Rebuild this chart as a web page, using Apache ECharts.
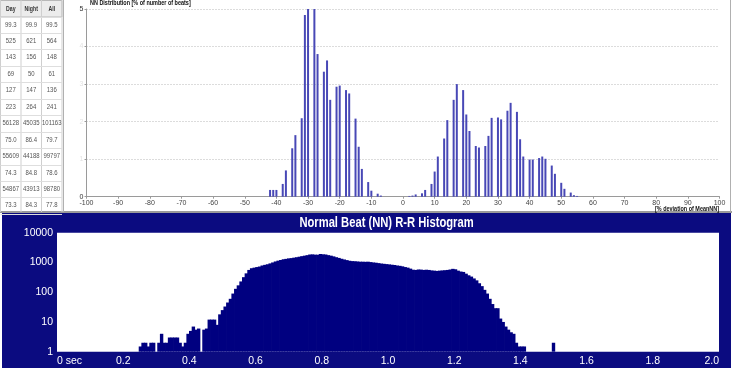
<!DOCTYPE html>
<html><head><meta charset="utf-8">
<script src="https://cdn.jsdelivr.net/npm/echarts@6/dist/echarts.min.js"></script>
<style>html,body{margin:0;padding:0;background:#fff}#c{width:732px;height:368px}</style>
</head><body><div id="c"></div>
<script>
// ---------- data ----------
const tableHeaders = ['Day', 'Night', 'All'];
const tableRows = [
  ['99.3', '99.9', '99.5'],
  ['525', '621', '564'],
  ['143', '156', '148'],
  ['69', '50', '61'],
  ['127', '147', '136'],
  ['223', '264', '241'],
  ['56128', '45035', '101163'],
  ['75.0', '86.4', '79.7'],
  ['55609', '44188', '99797'],
  ['74.3', '84.8', '78.6'],
  ['54867', '43913', '98780'],
  ['73.3', '84.3', '77.8']
];

// NN distribution: % deviation of MeanNN vs % of number of beats
const nnDeviation = [-42,-41,-40,-38,-37,-35,-34,-32,-31,-30,-28,-27,-25,-24,-23,-21,-20,-18,-17,-15,-14,-13,-11,-10,-8,-7,
  2,3,4,6,7,9,10,11,13,14,16,17,19,20,21,23,24,26,27,28,30,31,33,34,36,37,38,40,41,43,44,45,47,48,50,51,53,54,55];
const nnPercent = [0.18,0.18,0.18,0.34,0.70,1.29,1.64,2.09,4.84,5.0,5.0,3.80,3.33,3.63,2.58,2.93,2.96,2.84,2.75,2.08,1.33,0.74,0.39,0.16,0.08,0.03,
  0.02,0.03,0.06,0.09,0.18,0.34,0.67,1.07,1.55,2.04,2.58,3.0,2.84,2.19,1.75,1.35,1.31,1.35,1.62,2.10,2.11,2.06,2.29,2.50,2.26,1.53,1.07,0.99,0.99,1.03,1.07,1.01,0.83,0.61,0.37,0.21,0.11,0.04,0.02];

// R-R histogram: bins of 8 ms, first listed bin index 31 (0.248 s)
const rrBinWidth = 0.008;
const rrFirstBin = 31;
const rrCounts = [
  1.5,2,2,1.5,2,2,null,2,4,2,2,3,3,3,3,2,1.5,2,4,5,7,5.5,6,null,5.5,6,12,12,12,8,
  18,25,33,45,60,90,130,170,230,320,430,560,640,670,700,730,790,830,870,930,
  1000,1080,1150,1210,1280,1320,1370,1400,1450,1500,1560,1630,1690,1760,1850,1870,1830,1820,1920,1880,
  1850,1760,1690,1600,1500,1420,1330,1260,1200,1140,1110,1100,1080,1060,1060,1050,1060,1030,1000,980,
  950,920,900,880,860,840,820,790,770,740,700,670,620,570,560,580,575,560,570,560,
  540,530,520,530,540,550,560,580,610,590,530,495,480,420,370,335,290,250,200,160,
  120,90,60,40,29,29,13,10,7,5.5,4.5,4,2,1.5,1.5,1.5,
  null,null,null,null,null,null,null,null,null,null,2
];

// ---------- build ----------
const FONT = "'Liberation Sans',Arial,sans-serif";
const NARROW = 0.8;
const nnData = nnDeviation.map((x, i) => [x, nnPercent[i]]);
const rrData = rrCounts.map((v, i) => [(rrFirstBin + i + 0.5) * rrBinWidth, v == null ? '-' : v]);

const graphics = [];
graphics.push({type: 'rect', z: -100, shape: {x: 2, y: 213, width: 729, height: 155}, style: {fill: '#0b0b80'}});
graphics.push({type: 'line', z: -50, shape: {x1: 0, y1: 212, x2: 732, y2: 212}, style: {stroke: '#9a9a9a', lineWidth: 2}});
graphics.push({type: 'line', z: -50, shape: {x1: 63.5, y1: 0, x2: 63.5, y2: 212}, style: {stroke: '#b0b0b0', lineWidth: 1}});
graphics.push({type: 'line', z: -50, shape: {x1: 730.5, y1: 0, x2: 730.5, y2: 212}, style: {stroke: '#b0b0b0', lineWidth: 1}});
// table
const colX = [0.5, 21, 41.5, 62];
const headH = 16.5, rowH = 16.45;
graphics.push({type: 'rect', z: -40, shape: {x: 0.5, y: 0.5, width: 61.5, height: headH}, style: {fill: '#ececec', stroke: '#b8b8b8', lineWidth: 1}});
colX.forEach(x => graphics.push({type: 'line', z: -30, shape: {x1: x, y1: 0, x2: x, y2: 212}, style: {stroke: '#cfcfcf', lineWidth: 1}}));
for (let k = 0; k <= tableRows.length; k++) {
  const y = Math.round(headH + k * rowH) + 0.5;
  graphics.push({type: 'line', z: -30, shape: {x1: 0.5, y1: y, x2: 62, y2: y}, style: {stroke: '#dedede', lineWidth: 1}});
}
tableHeaders.forEach((h, c) => graphics.push({
  type: 'text', z: 10, x: (colX[c] + colX[c + 1]) / 2, y: 9, scaleX: NARROW,
  style: {text: h, fill: '#333', fontSize: 6.5, fontWeight: 'bold', fontFamily: FONT, align: 'center', verticalAlign: 'middle'}
}));
tableRows.forEach((row, r) => row.forEach((v, c) => graphics.push({
  type: 'text', z: 10, x: (colX[c] + colX[c + 1]) / 2, y: headH + rowH * (r + 0.5), scaleX: 0.92,
  style: {text: v, fill: '#555', fontSize: 6.5, fontFamily: FONT, align: 'center', verticalAlign: 'middle'}
})));
// titles
graphics.push({type: 'text', z: 10, x: 90, y: 3.5, scaleX: 0.78,
  style: {text: 'NN Distribution [% of number of beats]', fill: '#111', fontSize: 7, fontWeight: 'bold', fontFamily: FONT, align: 'left', verticalAlign: 'middle'}});
graphics.push({type: 'text', z: 10, x: 719, y: 209.5, scaleX: 0.78,
  style: {text: '[% deviation of MeanNN]', fill: '#111', fontSize: 7, fontWeight: 'bold', fontFamily: FONT, align: 'right', verticalAlign: 'middle'}});
graphics.push({type: 'text', z: 10, x: 386.5, y: 223.5, scaleX: 0.8,
  style: {text: 'Normal Beat (NN) R-R Histogram', fill: '#fff', fontSize: 14, fontWeight: 'bold', fontFamily: FONT, align: 'center', verticalAlign: 'middle'}});

const chart = echarts.init(document.getElementById('c'), null, {renderer: 'canvas'});
chart.setOption({
  animation: false,
  backgroundColor: 'transparent',
  graphic: {elements: graphics},
  grid: [
    {left: 86.5, right: 12.5, top: 9, bottom: 171.3, containLabel: false},
    {left: 57, right: 13, top: 232.7, bottom: 16.3, show: true, backgroundColor: '#ffffff', borderWidth: 0, containLabel: false}
  ],
  xAxis: [
    {type: 'value', gridIndex: 0, min: -100, max: 100, interval: 10,
     axisLine: {show: true, onZero: false, lineStyle: {color: '#9a9a9a', width: 1}},
     axisTick: {show: true, length: 2, lineStyle: {color: '#9a9a9a'}},
     axisLabel: {fontSize: 7, color: '#444', margin: 3, fontFamily: FONT},
     splitLine: {show: false}},
    {type: 'value', gridIndex: 1, min: 0, max: 2, interval: 0.2,
     axisLine: {show: false}, axisTick: {show: false}, splitLine: {show: false},
     axisLabel: {fontSize: 10.5, color: '#fff', margin: 4, fontFamily: FONT, alignMinLabel: 'left', alignMaxLabel: 'right',
       formatter: v => (v === 0 ? '0 sec' : v.toFixed(1))}}
  ],
  yAxis: [
    {type: 'value', gridIndex: 0, min: 0, max: 5, interval: 1,
     axisLine: {show: true, onZero: false, lineStyle: {color: '#9a9a9a', width: 1}},
     axisTick: {show: true, length: 2, lineStyle: {color: '#9a9a9a'}},
     axisLabel: {margin: 3, fontFamily: FONT,
       formatter: v => (v === 0 || v === 5 ? '{d|' + v + '}' : '{f|' + v + '}'),
       rich: {d: {fontSize: 7, color: '#333', fontFamily: FONT}, f: {fontSize: 7, color: '#e4e4e4', fontFamily: FONT}}},
     splitLine: {show: true, lineStyle: {type: [1, 2], color: '#b8b8b8', width: 1}}},
    {type: 'log', logBase: 10, gridIndex: 1, min: 1, max: 10000,
     axisLine: {show: false}, axisTick: {show: false}, splitLine: {show: false},
     axisLabel: {fontSize: 10.5, color: '#fff', margin: 4, fontFamily: FONT, formatter: v => String(Math.round(v))}}
  ],
  series: [
    {type: 'bar', xAxisIndex: 0, yAxisIndex: 0, data: nnData, barWidth: 2,
     itemStyle: {color: '#4848b6'}, silent: true},
    {type: 'bar', xAxisIndex: 1, yAxisIndex: 1, data: rrData, barWidth: 3.4,
     itemStyle: {color: '#000080', borderWidth: 0}, silent: true}
  ]
});
</script></body></html>
